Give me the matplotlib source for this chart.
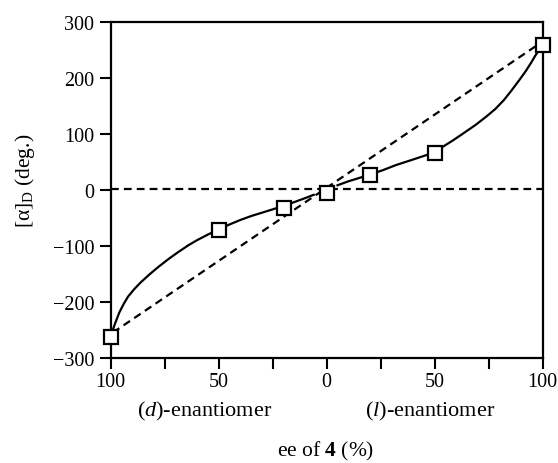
import matplotlib
matplotlib.use('Agg')
import matplotlib.pyplot as plt
from matplotlib.ticker import FixedLocator, FixedFormatter

# measured points (ee, signed: d-enantiomer negative)
ee = [-100, -50, -20, 0, 20, 50, 100]
rotation = [-262, -70, -32, -4, 27, 66, 260]

# hand-drawn curve, two branches
left_x = [-100, -98, -96, -94, -92, -89, -86, -82, -78, -73, -69, -64, -60,
          -55, -50, -45, -40, -35, -30, -25, -20, -15, -10, -6]
left_y = [-260, -238, -218, -203, -190, -176, -164, -150, -137, -122, -111,
          -98, -89, -79, -70, -61, -53, -46, -40, -34, -28, -21, -14, -8]
right_x = [5, 10, 15, 20, 26, 32, 40, 47, 53, 58, 63, 69, 74, 78, 82, 85.5,
           89, 92, 94.5, 96.5, 98.5, 100]
right_y = [9, 16, 22, 28, 36, 45, 55, 64, 76, 88, 101, 117, 132, 145, 161,
           178, 196, 212, 227, 240, 252, 261]

# dashed guide lines
diag_x = [-99, 97]
diag_y = [-254, 258]
flat_x = [-100, 100]
flat_y = [3, 3]

xticks = [-100, -50, 0, 50, 100]
xtick_labels = ['100', '50', '0', '50', '100']
xminor = [-75, -25, 25, 75]
yticks = [-300, -200, -100, 0, 100, 200, 300]

plt.rcParams['font.family'] = ['Liberation Serif', 'DejaVu Serif']
plt.rcParams['mathtext.fontset'] = 'custom'
plt.rcParams['mathtext.rm'] = 'Liberation Serif'
plt.rcParams['mathtext.it'] = 'Liberation Serif:italic'
plt.rcParams['mathtext.bf'] = 'Liberation Serif:bold'


def main():
    fig = plt.figure(figsize=(5.58, 4.64), dpi=100)
    ax = fig.add_axes([0.1984, 0.2256, 0.7742, 0.7242])

    dash = (0, (3.5, 2.3))
    ax.plot(flat_x, flat_y, color='black', lw=1.6, ls=dash, zorder=2)
    ax.plot(diag_x, diag_y, color='black', lw=1.6, ls=dash, zorder=2)
    ax.plot(left_x, left_y, color='black', lw=1.6, zorder=3)
    ax.plot(right_x, right_y, color='black', lw=1.6, zorder=3)
    ax.plot(ee, rotation, ls='none', marker='s', ms=10, mfc='white',
            mec='black', mew=1.6, zorder=4, clip_on=False)

    ax.set_xlim(-100, 100)
    ax.set_ylim(-300, 300)

    ax.xaxis.set_major_locator(FixedLocator(xticks))
    ax.xaxis.set_major_formatter(FixedFormatter(xtick_labels))
    ax.xaxis.set_minor_locator(FixedLocator(xminor))
    ax.yaxis.set_major_locator(FixedLocator(yticks))

    ax.tick_params(axis='both', which='both', direction='out', length=8,
                   width=1.5, labelsize=14.5, top=False, right=False)
    ax.tick_params(axis='x', pad=2)
    ax.tick_params(axis='y', pad=4)
    for s in ax.spines.values():
        s.set_linewidth(1.6)

    fig.text(0.367, 0.114, r'($\mathit{d}$)-enantiomer', ha='center',
             va='center', fontsize=16)
    fig.text(0.771, 0.114, r'($\mathit{l}$)-enantiomer', ha='center',
             va='center', fontsize=16)
    fig.text(0.583, 0.028, r'ee of $\mathbf{4}$ (%)', ha='center',
             va='center', fontsize=15.5)
    fig.text(0.045, 0.61, r'[α]$_\mathrm{D}$ (deg.)', ha='center',
             va='center', rotation=90, fontsize=15.5)

    fig.savefig('out.png', dpi=100)


if __name__ == '__main__':
    main()
